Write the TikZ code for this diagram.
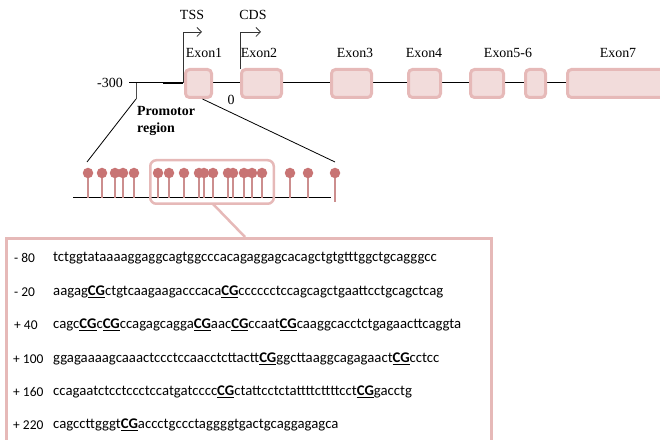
\documentclass[tikz,border=0pt]{standalone}
\usepackage{fontspec}
\setmainfont{Liberation Serif}
\newfontfamily\seqfont{Carlito}
\usetikzlibrary{arrows.meta}
\definecolor{exfill}{HTML}{F2DCDB}
\definecolor{exdraw}{HTML}{E6B9B8}
\definecolor{lolli}{HTML}{C87474}
\definecolor{stemc}{HTML}{CC8E8E}
\newcommand{\cgmark}{\textbf{\underline{CG}}}
\tikzset{
  exon/.style={draw=exdraw, fill=exfill, line width=3bp, rounded corners=4bp, minimum height=28bp, inner sep=0pt},
  lbl/.style={font=\fontsize{14}{16}\selectfont, inner sep=0pt},
  seqlbl/.style={font=\seqfont\fontsize{14.8}{16}\selectfont, inner sep=0pt, anchor=west},
  poslbl/.style={font=\seqfont\fontsize{13.5}{16}\selectfont, inner sep=0pt, anchor=west},
  stem/.style={draw=stemc, line width=1.3bp},
  head/.style={circle, fill=lolli, minimum size=10.5bp, inner sep=0pt},
  pinkline/.style={draw=exdraw, line width=2.5bp},
  tssarrow/.style={draw=black!80, line width=0.8bp, -{Straight Barb[length=4.5bp,width=9bp]}}
}
\begin{document}
\begin{tikzpicture}[x=1bp,y=-1bp]
\useasboundingbox (0,0) rectangle (660,440);
\clip (0,0) rectangle (660,440);
% gene line
\coordinate (gstart) at (129,83);
\coordinate (gend) at (660,83);
\draw[line width=1bp] (gstart) -- (gend);
\coordinate (thA) at (163,83);
\coordinate (thB) at (183,83);
\draw[line width=2.2bp] (thA) -- (thB);
% exons
\node[exon, minimum width=26bp] (e1) at (198.5,83.5) {};
\node[exon, minimum width=40bp] (e2) at (261.5,83.5) {};
\node[exon, minimum width=40bp] (e3) at (351.5,83.5) {};
\node[exon, minimum width=32bp] (e4) at (424.5,83.5) {};
\node[exon, minimum width=33bp] (e5) at (487,83.5) {};
\node[exon, minimum width=20bp] (e6) at (535.5,83.5) {};
\node[exon, minimum width=131bp] (e7) at (633,83.5) {};
\node[lbl] (l1) at (204,53) {Exon1};
\node[lbl] (l2) at (259,53) {Exon2};
\node[lbl] (l3) at (355,53) {Exon3};
\node[lbl] (l4) at (424,53) {Exon4};
\node[lbl] (l5) at (508,53) {Exon5-6};
\node[lbl] (l7) at (618,53) {Exon7};
% TSS / CDS
\coordinate (tssbase) at (183,83);
\coordinate (tsstip) at (202,32);
\draw[tssarrow] (tssbase) |- (tsstip);
\node[lbl] (tss) at (192,15) {TSS};
\coordinate (cdsbase) at (240,69);
\coordinate (cdstip) at (261,32);
\draw[tssarrow] (cdsbase) |- (cdstip);
\node[lbl] (cds) at (253,15) {CDS};
\node[lbl, anchor=east] (m300) at (123,83) {-300};
\node[lbl] (zero) at (231,100) {0};
% promoter
\coordinate (ptick) at (136,83);
\coordinate (ptickb) at (136,99);
\draw[black!70, line width=1bp] (ptick) -- (ptickb);
\node[lbl, font=\bfseries\fontsize{14}{17}\selectfont, align=left, anchor=north west] (prom) at (137,106) {Promotor\\region};
\coordinate (zl) at (87,162);
\coordinate (zr) at (335,162);
\draw[line width=0.8bp] (ptickb) -- (zl);
\draw[line width=0.8bp] (e1.south) ++(4,0) -- (zr);
% lollipop baseline
\coordinate (bl) at (73,198);
\coordinate (br) at (331,198);
\draw[line width=1bp] (bl) -- (br);
\foreach \x [count=\i] in {88,102,115,123,134,158,169,184,199,204,213,228,233,244,252,262,290,308} {
  \draw[stem] (\x,174) -- (\x,198);
  \node[head] (h\i) at (\x,173) {};
}
\draw[stem] (335,174) -- (335,202);
\node[head] (h19) at (335,173) {};
% highlight
\node[draw=exdraw, line width=2.5bp, rounded corners=6bp, minimum width=123.5bp, minimum height=43.5bp, inner sep=0pt] (hl) at (212,182) {};
% big box
\node[draw=exdraw, line width=3bp, minimum width=485bp, minimum height=220bp, anchor=north west, inner sep=0pt] (box) at (5,237) {};
\coordinate (hlb) at (213,204);
\coordinate (boxt) at (245,237);
\draw[pinkline] (hlb) -- (boxt);
% sequence text
\node[poslbl] (n1) at (14,258) {- 80};
\node[seqlbl] (s1) at (53,258) {tctggtataaaaggaggcagtggcccacagaggagcacagctgtgtttggctgcagggcc};
\node[poslbl] (n2) at (14,292) {- 20};
\node[seqlbl] (s2) at (53,292) {aagag\cgmark ctgtcaagaagacccaca\cgmark cccccctccagcagctgaattcctgcagctcag};
\node[poslbl] (n3) at (14,325) {+ 40};
\node[seqlbl] (s3) at (53,325) {cagc\cgmark c\cgmark ccagagcagga\cgmark aac\cgmark ccaat\cgmark caaggcacctctgagaacttcaggta};
\node[poslbl] (n4) at (13,359) {+ 100};
\node[seqlbl] (s4) at (53,359) {ggagaaaagcaaactccctccaacctcttactt\cgmark ggcttaaggcagagaact\cgmark cctcc};
\node[poslbl] (n5) at (13,392) {+ 160};
\node[seqlbl] (s5) at (53,392) {ccagaatctcctccctccatgatcccc\cgmark ctattcctctattttcttttcct\cgmark gacctg};
\node[poslbl] (n6) at (13,425) {+ 220};
\node[seqlbl] (s6) at (53,425) {cagccttgggt\cgmark accctgccctaggggtgactgcaggagagca};
\end{tikzpicture}
\end{document}
